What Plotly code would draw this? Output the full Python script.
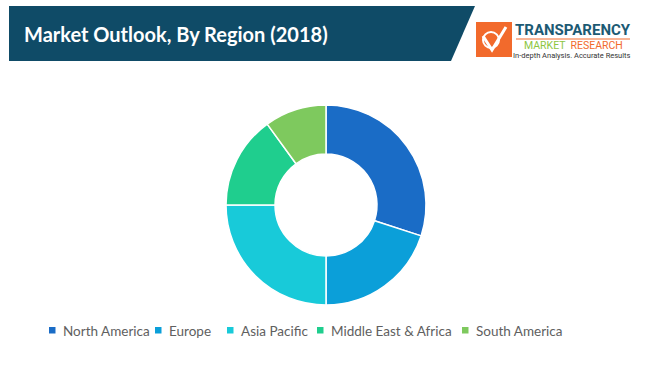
import plotly.graph_objects as go

regions = ["North America", "Europe", "Asia Pacific", "Middle East & Africa", "South America"]
shares = [30, 20, 25, 15, 10]
colors = ["#1a6cc6", "#0b9fd9", "#18cad9", "#1fce8e", "#7ec95e"]
title_text = "Market Outlook, By Region (2018)"

W, H = 650, 381
def px(x):
    return x / W
def py(y):
    return 1 - y / H

fig = go.Figure()
fig.add_trace(go.Pie(
    labels=regions, values=shares, sort=False, direction="clockwise", rotation=0,
    hole=0.51, textinfo="none", hoverinfo="label+percent",
    marker=dict(colors=colors, line=dict(color="white", width=1.5)),
    domain=dict(x=[px(226), px(426)], y=[py(305), py(105)]),
    showlegend=False,
))

shapes = []
# header banner
shapes.append(dict(type="path", xref="paper", yref="paper",
                   path=f"M {px(9)},{py(6)} L {px(475)},{py(6)} L {px(451)},{py(61)} L {px(9)},{py(61)} Z",
                   fillcolor="#0f4b67", line=dict(width=0), layer="below"))
# logo box
shapes.append(dict(type="rect", xref="paper", yref="paper",
                   x0=px(476), x1=px(512), y0=py(57), y1=py(22),
                   fillcolor="#f26a2c", line=dict(width=0)))
shapes.append(dict(type="path", xref="paper", yref="paper",
                   path=f"M {px(483)},{py(36)} L {px(492)},{py(50)} L {px(506)},{py(27)}",
                   line=dict(color="white", width=3)))
shapes.append(dict(type="circle", xref="paper", yref="paper",
                   x0=px(483), x1=px(499), y0=py(48), y1=py(32),
                   line=dict(color="white", width=2)))
# logo underline
shapes.append(dict(type="line", xref="paper", yref="paper",
                   x0=px(516), x1=px(630), y0=py(39), y1=py(39),
                   line=dict(color="#f26a2c", width=1)))

annotations = []
annotations.append(dict(text=f"<b>{title_text}</b>", x=px(22), y=py(34), xref="paper", yref="paper",
                        xanchor="left", yanchor="middle", showarrow=False,
                        font=dict(family="Lato", size=20, color="white")))
annotations.append(dict(text="<b>TRANSPARENCY</b>", x=px(573), y=py(30), xref="paper", yref="paper",
                        xanchor="center", yanchor="middle", showarrow=False,
                        font=dict(family="Roboto", size=15, color="#1c5a73")))
annotations.append(dict(text="<span style='color:#8dc63f'>MARKET</span>  <span style='color:#f26a2c'>RESEARCH</span>",
                        x=px(573), y=py(45), xref="paper", yref="paper",
                        xanchor="center", yanchor="middle", showarrow=False,
                        font=dict(family="Roboto", size=10.5)))
annotations.append(dict(text="In-depth Analysis. Accurate Results", x=px(572), y=py(55.5), xref="paper", yref="paper",
                        xanchor="center", yanchor="middle", showarrow=False,
                        font=dict(family="Roboto", size=7.5, color="#333333")))

# manual legend
marker_x = [49, 155, 227, 317, 462]
for name, col, mx in zip(regions, colors, marker_x):
    shapes.append(dict(type="rect", xref="paper", yref="paper",
                       x0=px(mx), x1=px(mx + 6.5), y0=py(333.5), y1=py(327),
                       fillcolor=col, line=dict(width=0)))
    annotations.append(dict(text=name, x=px(mx + 12), y=py(330.5), xref="paper", yref="paper",
                            xanchor="left", yanchor="middle", showarrow=False,
                            font=dict(family="Lato", size=13.5, color="#606060")))

fig.update_layout(
    width=W, height=H, margin=dict(l=0, r=0, t=0, b=0),
    paper_bgcolor="white", plot_bgcolor="white",
    shapes=shapes, annotations=annotations,
)
fig.write_html("out.html")
